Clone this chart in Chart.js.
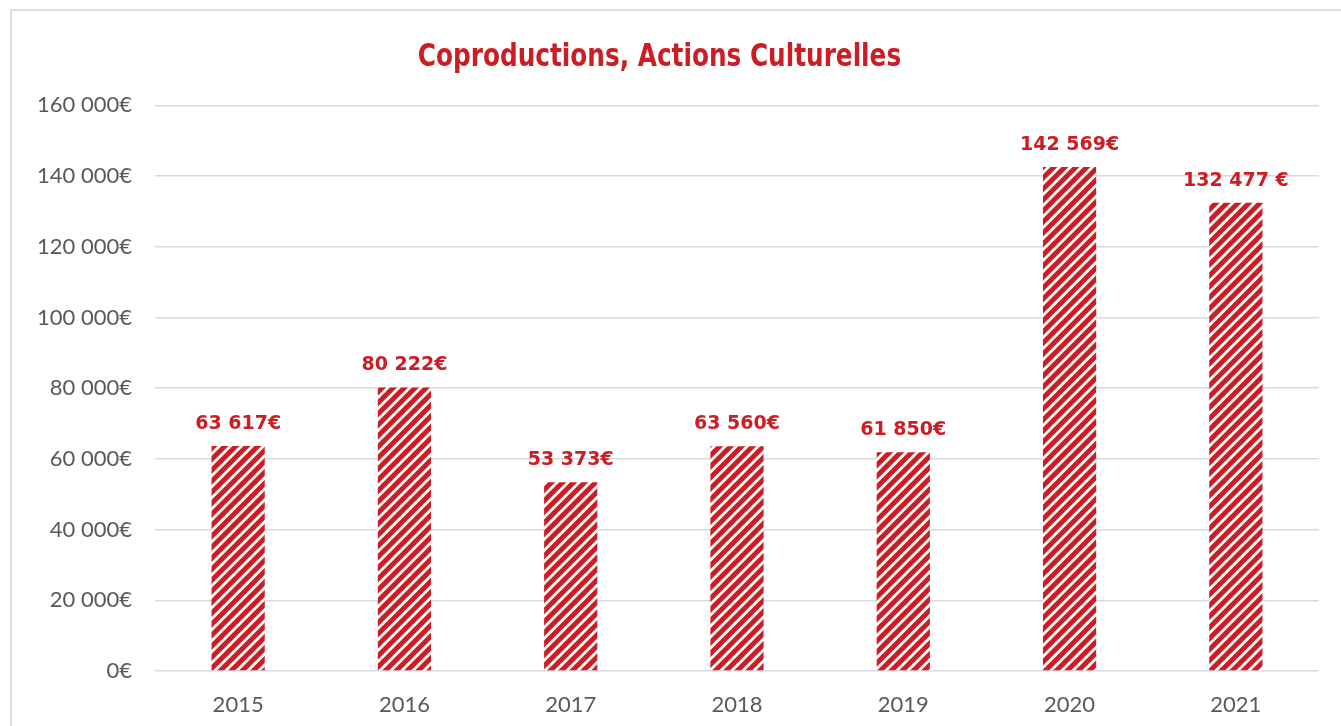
<!DOCTYPE html>
<html lang="fr">
<head>
<meta charset="utf-8">
<title>Coproductions, Actions Culturelles</title>
<script src="https://cdn.jsdelivr.net/npm/chart.js@4/dist/chart.umd.min.js"></script>
<style>
  html, body { margin: 0; padding: 0; background: #fff; }
  .frame {
    position: absolute;
    left: 10px;
    top: 9px;
    width: 1331px;
    height: 717px;
    border-left: 2px solid #d9dce6;
    border-top: 2px solid #d9dce6;
    box-sizing: border-box;
    pointer-events: none;
  }
  canvas { display: block; }
</style>
</head>
<body>
<canvas id="coprodChart" width="1341" height="726"></canvas>
<div class="frame"></div>

<script>
// Chart data
const years = ["2015", "2016", "2017", "2018", "2019", "2020", "2021"];
const amounts = [63617, 80222, 53373, 63560, 61850, 142569, 132477];
const amountLabels = ["63 617€", "80 222€", "53 373€", "63 560€", "61 850€", "142 569€", "132 477 €"];
const yTicks = [0, 20000, 40000, 60000, 80000, 100000, 120000, 140000, 160000];
const chartTitle = "Coproductions, Actions Culturelles";

const RED = "#cc1d24";
const TITLE_FONT = "bold 32px 'Liberation Sans Narrow', 'DejaVu Sans Condensed', sans-serif";

document.addEventListener("DOMContentLoaded", () => {
  initCoprodChart();
});

/**
 * Build the diagonal hatch used to fill the bars
 */
function makeHatch() {
  const size = 11;
  const c = document.createElement("canvas");
  c.width = size;
  c.height = size;
  const g = c.getContext("2d");
  g.fillStyle = "#ffffff";
  g.fillRect(0, 0, size, size);
  g.strokeStyle = RED;
  g.lineWidth = 5;
  g.lineCap = "square";
  g.beginPath();
  g.moveTo(0, size);
  g.lineTo(size, 0);
  g.moveTo(-size / 2, size / 2);
  g.lineTo(size / 2, -size / 2);
  g.moveTo(size / 2, size * 1.5);
  g.lineTo(size * 1.5, size / 2);
  g.stroke();
  return g.createPattern(c, "repeat");
}

/**
 * Draw the amount above every bar
 */
const valueLabels = {
  id: "valueLabels",
  afterDatasetsDraw(chart) {
    const ctx = chart.ctx;
    const meta = chart.getDatasetMeta(0);
    ctx.save();
    ctx.fillStyle = RED;
    ctx.font = "bold 19px 'DejaVu Sans'";
    ctx.textAlign = "center";
    ctx.textBaseline = "alphabetic";
    meta.data.forEach((bar, i) => {
      ctx.fillText(amountLabels[i], bar.x, bar.y - 17);
    });
    ctx.restore();
  },
};

/**
 * Draw the title a bit narrower, in the space the title block reserves
 */
const narrowTitle = {
  id: "narrowTitle",
  afterDraw(chart) {
    const block = chart.titleBlock;
    if (!block) return;
    const ctx = chart.ctx;
    const cx = (block.left + block.right) / 2;
    const cy = block.top + 39 + 19;
    ctx.save();
    ctx.translate(cx, cy);
    ctx.scale(0.86, 1);
    ctx.fillStyle = RED;
    ctx.font = TITLE_FONT;
    ctx.textAlign = "center";
    ctx.textBaseline = "middle";
    ctx.fillText(chartTitle, 0, 0);
    ctx.restore();
  },
};

/**
 * Format a tick like "160 000€"
 */
function euro(value) {
  return value.toString().replace(/\B(?=(\d{3})+(?!\d))/g, " ") + "€";
}

function initCoprodChart() {
  const ctx = document.getElementById("coprodChart");
  if (!ctx) return;

  new Chart(ctx, {
    type: "bar",
    data: {
      labels: years,
      datasets: [
        {
          data: amounts,
          backgroundColor: makeHatch(),
          borderWidth: 0,
          categoryPercentage: 1,
          barPercentage: 0.32,
        },
      ],
    },
    options: {
      responsive: false,
      animation: false,
      layout: {
        padding: { left: 0, right: 22, top: 0, bottom: 0 },
      },
      plugins: {
        legend: { display: false },
        tooltip: { enabled: false },
        title: {
          // reserves the space, the text itself is drawn by narrowTitle
          display: true,
          text: chartTitle,
          color: "rgba(0,0,0,0)",
          font: {
            family: "'Liberation Sans Narrow', 'DejaVu Sans Condensed', sans-serif",
            size: 32,
            weight: "bold",
          },
          padding: { top: 39, bottom: 28 },
        },
      },
      scales: {
        x: {
          grid: { display: false, drawTicks: false },
          border: { display: false },
          ticks: {
            color: "#595959",
            padding: 21,
            font: { family: "Lato", size: 22 },
            maxRotation: 0,
          },
          afterFit: (scale) => {
            scale.height = 55;
          },
        },
        y: {
          min: 0,
          max: 160000,
          afterBuildTicks: (scale) => {
            scale.ticks = yTicks.map((v) => ({ value: v }));
          },
          grid: {
            color: "#d6d9e6",
            lineWidth: 1.5,
            drawTicks: false,
          },
          border: { display: false },
          ticks: {
            color: "#595959",
            padding: 23,
            font: { family: "Lato", size: 22 },
            callback: function (value) {
              return euro(value);
            },
          },
          afterFit: (scale) => {
            scale.width = 155;
          },
        },
      },
    },
    plugins: [valueLabels, narrowTitle],
  });
}
</script>
</body>
</html>
